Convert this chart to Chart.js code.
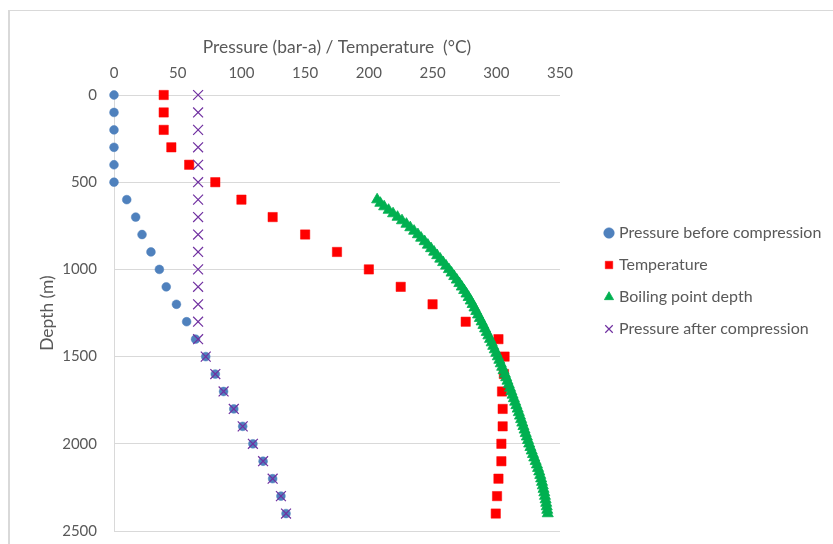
<!DOCTYPE html>
<html>
<head>
<meta charset="utf-8">
<script src="https://cdn.jsdelivr.net/npm/chart.js@4/dist/chart.umd.min.js"></script>
<style>
html,body{margin:0;padding:0;background:#fff;}
#wrap{position:relative;width:833px;height:544px;overflow:hidden;background:#fff;}
#frame{position:absolute;left:8px;top:10px;width:900px;height:600px;border-left:2px solid #d9d9d9;border-top:1px solid #d9d9d9;}
#c{position:absolute;left:0;top:0;}
</style>
</head>
<body>
<div id="wrap"><div id="frame"></div><canvas id="c" width="833" height="544"></canvas></div>
<script>
// Depth (m) of the survey points
const depths = [0,100,200,300,400,500,600,700,800,900,1000,1100,1200,1300,1400,1500,1600,1700,1800,1900,2000,2100,2200,2300,2400];
// Pressure before compression (bar-a)
const pressureBefore = [0,0,0,0,0,0,10,17,22,29,35.6,41,49,57,64,72,79.5,86,94,101,109,117,124.5,131,135];
// Temperature (°C)
const temperature = [39,39,39,45,59,79.5,100,124.5,150,175,200,225,250,276,301.7,306.5,306,304.5,305,305,304,304,301.7,300.6,299.6];
// Pressure after compression (bar-a)
const pressureAfter = [66,66,66,66,66,66,66,66,66,66,66,66,66,66,66,72,79.5,86,94,101,109,117,124.5,131,135];
// Boiling point depth curve
const bpDepth = [600,620,640,660,680,700,720,740,760,780,800,820,840,860,880,900,920,940,960,980,
  1000,1020,1040,1060,1080,1100,1120,1140,1160,1180,1200,1220,1240,1260,1280,1300,1320,1340,1360,1380,
  1400,1420,1440,1460,1480,1500,1520,1540,1560,1580,1600,1620,1640,1660,1680,1700,1720,1740,1760,1780,
  1800,1820,1840,1860,1880,1900,1920,1940,1960,1980,2000,2020,2040,2060,2080,2100,2120,2140,2160,2180,
  2200,2220,2240,2260,2280,2300,2320,2340,2360,2380,2400];
const bpTemp = [206.5,209,212,215.5,219,222.5,226,229.5,232.5,235.5,238.5,241,243.8,246.3,248.8,251.2,253.6,256,258.3,260.6,
  262.8,264.9,267,269,271,272.9,274.8,276.6,278.3,279.9,281.4,282.9,284.3,285.7,287.1,288.5,289.9,291.2,292.5,293.8,
  295.1,296.4,297.6,298.8,300,301.2,302.4,303.5,304.6,305.7,306.8,307.8,308.8,309.8,310.8,311.8,312.8,313.8,314.8,315.8,
  316.8,317.7,318.6,319.5,320.4,321.3,322.2,323.1,324,324.9,325.8,326.8,327.8,328.8,329.8,330.9,331.9,332.8,333.7,334.5,
  335.2,335.9,336.5,337.1,337.7,338.2,338.7,339.2,339.6,340,340.4];

const seriesNames = ['Pressure before compression','Temperature','Boiling point depth','Pressure after compression'];
const xTitle = 'Pressure (bar-a) / Temperature  (°C)';
const yTitle = 'Depth (m)';

const pts = (xs, ys) => xs.map((v, i) => ({x: v, y: ys[i]}));
const FONT = 'Lato';
const TXT = '#595959';
const GRID = '#d9d9d9';

const legendPlace = {
  id: 'legendPlace',
  afterLayout(chart) {
    const lg = chart.legend;
    if (!lg) return;
    lg.left = 591; lg.right = 833;
    lg.top = 209; lg.bottom = 531;
  }
};

new Chart(document.getElementById('c'), {
  type: 'scatter',
  data: {
    datasets: [
      {label: seriesNames[0], data: pts(pressureBefore, depths), order: 3, clip: false,
       pointStyle: 'circle', pointRadius: 4.4, backgroundColor: '#4f81bd', borderColor: '#4f81bd', pointBorderWidth: 0.5},
      {label: seriesNames[1], data: pts(temperature, depths), order: 2, clip: false,
       pointStyle: 'rect', pointRadius: 6.6, backgroundColor: '#ff0000', borderColor: '#ff0000', pointBorderWidth: 0.5},
      {label: seriesNames[2], data: pts(bpTemp, bpDepth), order: 1, clip: false,
       pointStyle: 'triangle', pointRadius: 6.4, backgroundColor: '#00b050', borderColor: '#00b050', pointBorderWidth: 0.8},
      {label: seriesNames[3], data: pts(pressureAfter, depths), order: 0, clip: false,
       pointStyle: 'crossRot', pointRadius: 7, backgroundColor: '#7030a0', borderColor: '#7030a0', pointBorderWidth: 1.2}
    ]
  },
  options: {
    responsive: false,
    animation: false,
    devicePixelRatio: 1,
    layout: {padding: {left: 0, top: 0, right: 73, bottom: 13}},
    scales: {
      x: {
        type: 'linear', position: 'top', min: 0, max: 350,
        afterFit(s) { s.height = 95; },
        ticks: {stepSize: 50, padding: 13, color: TXT, font: {family: FONT, size: 15}},
        grid: {display: false, drawTicks: false},
        border: {display: false},
        title: {display: true, text: xTitle, color: TXT, font: {family: FONT, size: 17.4}, padding: {top: 37, bottom: 0}}
      },
      y: {
        type: 'linear', position: 'left', min: 0, max: 2500, reverse: true,
        afterFit(s) { s.width = 114; },
        ticks: {stepSize: 500, padding: 0, color: TXT, font: {family: FONT, size: 15}, callback: v => String(v)},
        grid: {color: GRID, lineWidth: 1, drawTicks: true, tickLength: 17, tickColor: 'rgba(0,0,0,0)'},
        border: {display: true, color: GRID, width: 1},
        title: {display: true, text: yTitle, color: TXT, font: {family: FONT, size: 17.4}, padding: {top: 37, bottom: 0}}
      }
    },
    plugins: {
      tooltip: {enabled: false},
      legend: {
        position: 'right', align: 'start', maxWidth: 200,
        labels: {
          usePointStyle: true, boxWidth: 4, boxHeight: 7.5, padding: 16,
          color: TXT, font: {family: FONT, size: 16},
          sort: (a, b) => a.datasetIndex - b.datasetIndex
        }
      }
    }
  },
  plugins: [legendPlace]
});
</script>
</body>
</html>
